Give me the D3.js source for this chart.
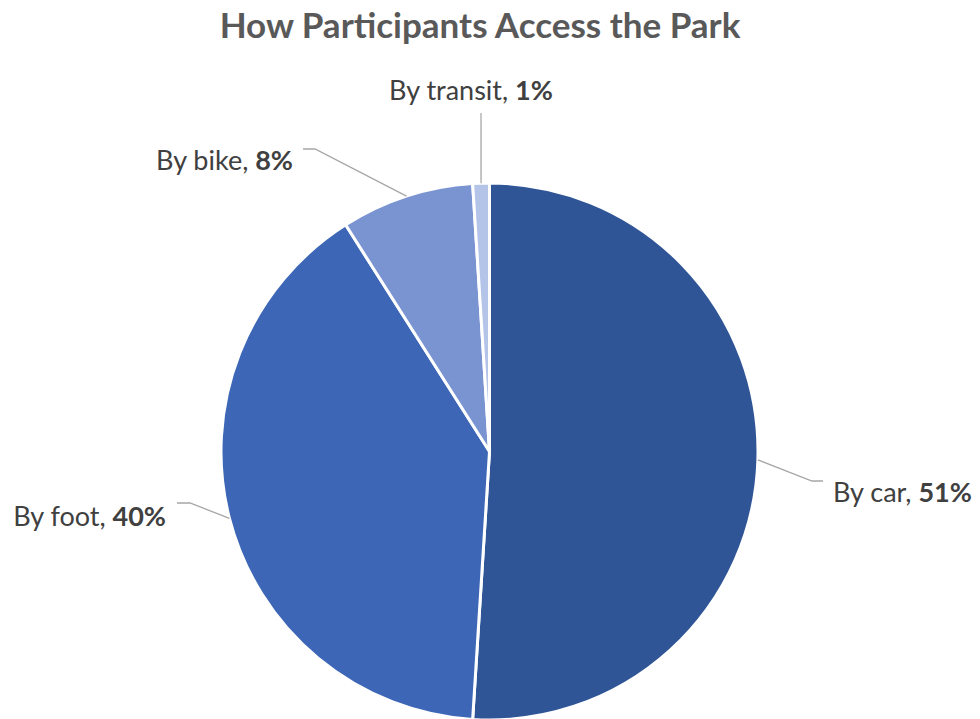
<!DOCTYPE html>
<html>
<head>
<meta charset="utf-8">
<script src="https://cdn.jsdelivr.net/npm/d3@7"></script>
<style>
  html, body { margin: 0; padding: 0; background: #fff; }
  svg { display: block; font-family: Lato, "Open Sans", sans-serif; }
</style>
</head>
<body>
<svg id="chart" width="980" height="719"></svg>
<script>
// Access modes, clockwise from 12 o'clock
const categories = ["By car", "By foot", "By bike", "By transit"];
const shares = [51, 40, 8, 1];
const colors = ["#2F5597", "#3D67B6", "#7A93D1", "#B4C4E8"];

const title = "How Participants Access the Park";

const width = 980, height = 719;
const cx = 489.5, cy = 451.5, radius = 268.5;

// Label anchor for each slice: where the leader line bends and where text sits
const labelLayout = [
  { bend: [812, 481], end: [823, 481], text: [833, 502], anchor: "start" },
  { bend: [190, 503], end: [177, 503], text: [166, 526], anchor: "end" },
  { bend: [315, 149], end: [303, 149], text: [293, 170], anchor: "end" },
  { bend: [481, 113], end: [481, 113], text: [471, 100], anchor: "middle" }
];

const svg = d3.select("#chart");

svg.append("text")
  .attr("x", 480)
  .attr("y", 38)
  .attr("text-anchor", "middle")
  .attr("font-size", 35)
  .attr("font-weight", "bold")
  .attr("fill", "#595959")
  .text(title);

const data = categories.map((c, i) => ({ cat: c, value: shares[i], color: colors[i], layout: labelLayout[i] }));

const pie = d3.pie().value(d => d.value).sort(null);
const arc = d3.arc().innerRadius(0).outerRadius(radius);
const arcs = pie(data);

const g = svg.append("g").attr("transform", `translate(${cx},${cy})`);

g.selectAll("path.slice")
  .data(arcs)
  .join("path")
  .attr("class", "slice")
  .attr("d", arc)
  .attr("fill", d => d.data.color)
  .attr("stroke", "#fff")
  .attr("stroke-width", 3)
  .attr("stroke-linejoin", "round");

// Leader lines from the slice edge out to the label
function edgePoint(d) {
  const a = (d.startAngle + d.endAngle) / 2;
  return [cx + Math.sin(a) * radius, cy - Math.cos(a) * radius];
}

svg.selectAll("polyline.leader")
  .data(arcs)
  .join("polyline")
  .attr("class", "leader")
  .attr("points", d => {
    const p = edgePoint(d);
    const L = d.data.layout;
    return [p, L.bend, L.end].map(q => q.join(",")).join(" ");
  })
  .attr("fill", "none")
  .attr("stroke", "#A6A6A6")
  .attr("stroke-width", 1.3);

const labels = svg.selectAll("text.label")
  .data(arcs)
  .join("text")
  .attr("class", "label")
  .attr("x", d => d.data.layout.text[0])
  .attr("y", d => d.data.layout.text[1])
  .attr("text-anchor", d => d.data.layout.anchor)
  .attr("font-size", 27)
  .attr("fill", "#404040");

labels.append("tspan").text(d => d.data.cat + ", ");
labels.append("tspan").attr("font-weight", "bold").text(d => d.data.value + "%");
</script>
</body>
</html>
